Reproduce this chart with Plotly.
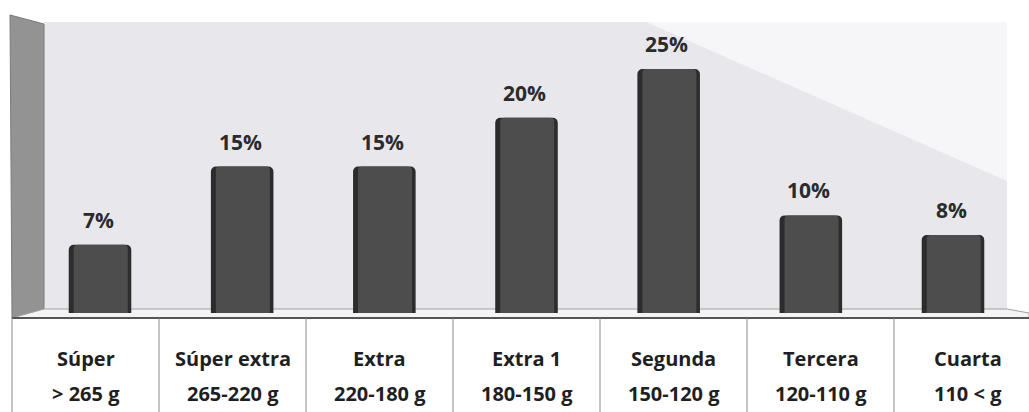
import plotly.graph_objects as go

# ---- data ----
categories = ["Súper", "Súper extra", "Extra", "Extra 1", "Segunda", "Tercera", "Cuarta"]
weight_ranges = ["> 265 g", "265-220 g", "220-180 g", "180-150 g", "150-120 g", "120-110 g", "110 < g"]
percentages = [7, 15, 15, 20, 25, 10, 8]

W, H = 1029, 412

def px(x):
    return x / W

def py(y):
    return 1 - y / H

fig = go.Figure()

# base (dark edge) bar
fig.add_trace(go.Bar(
    x=categories, y=percentages, width=0.44,
    marker=dict(color="#2c2c2c", line=dict(width=0), cornerradius=5),
    hoverinfo="skip", showlegend=False,
))
# body highlight bar
fig.add_trace(go.Bar(
    x=categories, y=percentages, width=0.38, offset=-0.185,
    marker=dict(color="#4d4d4d", line=dict(width=0), cornerradius=4),
    hovertemplate="%{x}: %{y}%<extra></extra>", showlegend=False,
))

shapes = []
# back wall
shapes.append(dict(type="rect", xref="paper", yref="paper",
                   x0=px(44), x1=px(1007), y0=py(312), y1=py(22),
                   fillcolor="#e8e8ec", line=dict(width=0), layer="below"))
# lighter triangle upper right
shapes.append(dict(type="path", xref="paper", yref="paper",
                   path=f"M {px(646)} {py(22)} L {px(1007)} {py(181)} L {px(1007)} {py(22)} Z",
                   fillcolor="#f6f6f8", line=dict(width=0), layer="below"))
# left side wall
shapes.append(dict(type="path", xref="paper", yref="paper",
                   path=f"M {px(10)} {py(15)} L {px(44)} {py(24)} L {px(44)} {py(312)} L {px(12)} {py(318)} Z",
                   fillcolor="#939393", line=dict(color="#7a7a7a", width=1), layer="below"))
# floor
shapes.append(dict(type="path", xref="paper", yref="paper",
                   path=f"M {px(12)} {py(318)} L {px(44)} {py(309)} L {px(1007)} {py(309)} L {px(1029)} {py(313)} L {px(1029)} {py(318)} Z",
                   fillcolor="#f4f4f4", line=dict(color="#a0a0a0", width=1), layer="below"))
# table top line
shapes.append(dict(type="line", xref="paper", yref="paper",
                   x0=px(12), x1=px(1029), y0=py(318), y1=py(318),
                   line=dict(color="#555555", width=2)))

# table columns
col_x0, col_w = 12, 147
for i in range(len(categories) + 1):
    xx = col_x0 + col_w * i
    if xx <= W:
        shapes.append(dict(type="line", xref="paper", yref="paper",
                           x0=px(xx), x1=px(xx), y0=py(318), y1=py(412),
                           line=dict(color="#8a8a8a", width=1)))

annotations = []
for cat, val in zip(categories, percentages):
    annotations.append(dict(x=cat, y=val, xref="x", yref="y", text=f"{val}%",
                            showarrow=False, yanchor="bottom", yshift=9, xshift=-2,
                            font=dict(family="Open Sans", size=21, color="#2b2b2b", weight="bold")))

for i, (cat, rng) in enumerate(zip(categories, weight_ranges)):
    cx = px(col_x0 + col_w * (i + 0.5))
    annotations.append(dict(x=cx, y=py(358), xref="paper", yref="paper", text=cat,
                            showarrow=False, xanchor="center", yanchor="middle",
                            font=dict(family="Open Sans", size=20, color="#1f1f1f", weight="bold")))
    annotations.append(dict(x=cx, y=py(393), xref="paper", yref="paper", text=rng,
                            showarrow=False, xanchor="center", yanchor="middle",
                            font=dict(family="Open Sans", size=20, color="#1f1f1f", weight="bold")))

# axis ranges so that bar centres & baseline land where the reference has them
x_unit = (953 - 100) / 6.0
x_r0 = -100 / x_unit
x_r1 = x_r0 + W / x_unit
y_unit = 9.76
y_r0 = -(H - 313) / y_unit
y_r1 = y_r0 + H / y_unit

fig.update_layout(
    width=W, height=H,
    margin=dict(l=0, r=0, t=0, b=0),
    paper_bgcolor="white", plot_bgcolor="rgba(0,0,0,0)",
    barmode="overlay",
    xaxis=dict(visible=False, range=[x_r0, x_r1], domain=[0, 1], fixedrange=True),
    yaxis=dict(visible=False, range=[y_r0, y_r1], domain=[0, 1], fixedrange=True),
    shapes=shapes, annotations=annotations,
    showlegend=False,
)

fig.write_html("out.html")
